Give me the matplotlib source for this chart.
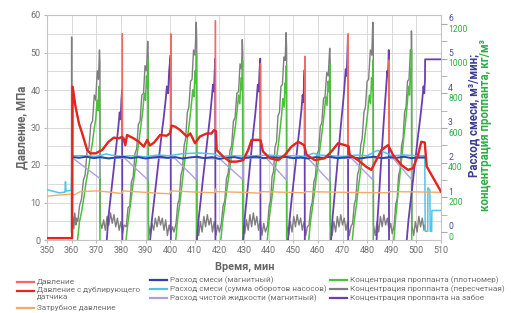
import numpy as np
import matplotlib
matplotlib.use('Agg')
import matplotlib.pyplot as plt
import matplotlib.transforms as mtransforms
from matplotlib.lines import Line2D

# ---------------- data ----------------
# Pressure, duplicate sensor (MPa)
P_TIME = [350, 360.2, 360.4, 361.6, 363, 364.3, 366.3, 367.6, 369.7, 372.4, 375.0, 377.1, 379.1, 380.5,
          381.1, 381.8, 382.5, 385.2, 387.3, 389.3, 390.7, 391.8, 393.5, 395.9, 398.6, 400.0, 400.6,
          402.1, 404.1, 406.8, 408.2, 410.1, 412.1, 414.8, 416.8, 417.8, 418.6, 418.9, 421.6, 424.3,
          427.0, 429.7, 431.7, 433.1, 435.8, 436.8, 437.7, 440.5, 443.9, 446.6, 449.3, 452.0, 454.4,
          455.4, 458.8, 462.8, 465.5, 468.2, 470.9, 472.5, 472.9, 476.3, 479.7, 481.7, 483.7, 485.8,
          488.5, 490.5, 493.9, 496.6, 498.6, 500.7, 502.0, 503.4, 504.2, 510]
P_VAL = [0.5, 0.5, 40.9, 35.5, 31.0, 28.4, 24.0, 23.1, 23.1, 24.0, 26.2, 27.3, 27.1, 27.5,
         27.1, 25.3, 28.0, 27.1, 26.2, 24.9, 26.7, 25.2, 26.0, 28.0, 27.8, 28.5, 30.5,
         30.2, 29.3, 27.6, 28.4, 25.8, 27.6, 28.4, 28.4, 29.3, 29.0, 24.0, 22.2, 20.9,
         20.9, 21.3, 24.0, 26.7, 26.7, 26.5, 23.6, 21.8, 21.3, 22.7, 24.9, 26.2, 25.3,
         22.7, 21.3, 21.8, 23.6, 25.8, 25.3, 25.0, 22.7, 21.3, 19.5, 18.7, 21.3, 24.0,
         25.3, 22.7, 20.0, 18.7, 19.1, 22.7, 26.2, 26.0, 19.6, 12.9]
# Short pressure spikes seen on the main sensor
SPIKE_T = [380.6, 400.3, 418.4, 436.7, 454.7, 472.3, 488.9]
SPIKE_V = [55.0, 55.0, 58.5, 47.0, 49.0, 55.0, 48.0]

# Annulus pressure (MPa)
ANN_TIME = [350, 355, 359.5, 360.4, 361.0, 363.5, 370.5, 375, 380.4, 380.8, 390, 399.8, 400.4, 410,
            418.2, 418.4, 418.8, 430, 436.5, 437.0, 454.6, 455.0, 472.0, 488.5, 489.0, 503.5, 510]
ANN_VAL = [11.7, 12.0, 12.2, 12.3, 12.0, 12.9, 13.1, 12.8, 12.4, 13.1, 12.7, 12.3, 13.1, 12.8,
           12.6, 13.6, 12.9, 12.7, 12.5, 12.9, 12.6, 12.9, 12.7, 12.6, 12.9, 12.8, 12.7]

# Slurry rate, magnetic (m3/min)
BLUE_TIME = [360.3, 363, 366, 369, 372, 375, 378, 381, 384, 387, 390, 393, 396, 399, 402, 405, 408,
             411, 414, 417, 420, 423, 426, 429, 432, 435, 438, 441, 444, 447, 450, 453, 456, 459,
             462, 465, 468, 471, 474, 477, 480, 483, 486, 489, 492, 495, 498, 501, 503.4]
BLUE_VAL = [2.16, 2.14, 2.17, 2.13, 2.16, 2.12, 2.15, 2.17, 2.13, 2.16, 2.12, 2.15, 2.17, 2.14,
            2.16, 2.12, 2.15, 2.17, 2.13, 2.16, 2.11, 2.14, 2.16, 2.12, 2.15, 2.17, 2.13, 2.16,
            2.14, 2.17, 2.13, 2.15, 2.12, 2.16, 2.14, 2.17, 2.13, 2.15, 2.16, 2.12, 2.15, 2.17,
            2.13, 2.16, 2.14, 2.17, 2.13, 2.15, 2.15]

# Slurry rate from pump strokes (m3/min)
CYAN_TIME = [350, 355, 357.3, 357.5, 357.7, 359.8, 360.3, 365, 370, 374, 376, 380, 385, 390, 395,
             400, 405, 412, 418, 420, 425, 430, 435, 440, 445, 450, 455, 458, 461, 465, 470, 476,
             480, 484, 487, 490, 495, 500, 503.4, 503.6, 504.6, 504.7, 505.5, 505.6, 506.2, 506.3, 510]
CYAN_VAL = [1.22, 1.13, 1.15, 1.45, 1.18, 1.2, 2.2, 2.2, 2.18, 2.25, 2.22, 2.18, 2.2, 2.17, 2.22,
            2.2, 2.26, 2.28, 2.25, 2.18, 2.2, 2.19, 2.2, 2.22, 2.19, 2.2, 2.18, 2.27, 2.22, 2.2,
            2.18, 2.22, 2.2, 2.35, 2.3, 2.2, 2.22, 2.2, 2.2, 0.02, 0.02, 1.28, 1.2, 0.02, 0.02,
            0.62, 0.62]

# Clean fluid rate, magnetic (m3/min)
LAV_TIME = [360.3, 361.0, 371.4, 371.6, 381.7, 391.0, 391.2, 402.0, 410.7, 410.9, 420.3, 429.4,
            429.6, 439.2, 447.2, 447.4, 456.0, 464.9, 465.1, 473.7, 482.4, 482.6, 490.6, 498.0,
            498.2, 503.4]
LAV_VAL = [2.12, 2.1, 1.55, 2.14, 2.12, 1.5, 2.14, 2.12, 1.5, 2.14, 2.1, 1.52, 2.14, 2.12, 1.5,
           2.14, 2.12, 1.45, 2.14, 2.12, 1.5, 2.14, 2.12, 1.52, 2.14, 2.14]

# Proppant concentration, calculated (kg/m3)
GRAY_TIME = [359.9, 360.0, 360.1, 360.5, 360.9, 361.3, 361.7, 362.0,
             362.5, 363.2, 364.0, 364.8, 365.5, 366.3, 367.0, 367.8, 368.5, 369.2, 369.8, 370.4, 370.9, 371.3, 371.5,
             371.6, 372.3, 373.0, 373.7, 374.4, 375.1, 375.8, 376.5, 377.2, 377.9, 378.6, 379.3, 380.0, 380.7, 381.3,
             382.2, 382.9, 383.6, 384.3, 385.0, 385.7, 386.4, 387.1, 387.8, 388.5, 389.2, 389.8, 390.4, 390.9, 391.1,
             391.2, 391.9, 392.6, 393.3, 394.0, 394.7, 395.4, 396.1, 396.8, 397.5, 398.2, 398.9, 399.6, 400.3, 401.0, 401.6,
             402.4, 403.1, 403.7, 404.4, 405.0, 405.7, 406.3, 407.0, 407.6, 408.3, 408.9, 409.5, 410.1, 410.6, 410.8,
             410.9, 411.6, 412.3, 413.0, 413.7, 414.4, 415.1, 415.8, 416.5, 417.2, 417.9, 418.6, 419.3, 420.0,
             420.8, 421.5, 422.2, 422.9, 423.6, 424.3, 425.0, 425.7, 426.4, 427.1, 427.8, 428.4, 429.0, 429.3, 429.5,
             429.6, 430.3, 431.0, 431.7, 432.4, 433.1, 433.8, 434.5, 435.2, 435.9, 436.6, 437.3, 438.0, 438.7,
             439.6, 440.2, 440.8, 441.4, 442.0, 442.6, 443.2, 443.8, 444.4, 445.0, 445.6, 446.2, 446.7, 447.1, 447.3,
             447.4, 448.1, 448.8, 449.5, 450.2, 450.9, 451.6, 452.3, 453.0, 453.7, 454.4, 455.1, 455.7,
             456.4, 457.1, 457.7, 458.4, 459.0, 459.7, 460.3, 461.0, 461.6, 462.3, 462.9, 463.6, 464.2, 464.8, 465.0,
             465.1, 465.8, 466.5, 467.2, 467.9, 468.6, 469.3, 470.0, 470.7, 471.4, 472.1, 472.8, 473.4,
             474.1, 474.8, 475.4, 476.1, 476.7, 477.4, 478.0, 478.7, 479.3, 480.0, 480.6, 481.3, 481.9, 482.3, 482.5,
             482.6, 483.3, 484.0, 484.7, 485.4, 486.1, 486.8, 487.5, 488.2, 488.9, 489.6, 490.2,
             491.0, 491.6, 492.2, 492.8, 493.4, 494.0, 494.6, 495.2, 495.8, 496.4, 497.0, 497.6, 497.9, 498.0, 498.1,
             498.2, 498.9, 499.6, 500.3, 501.0, 501.7, 502.4, 503.1, 503.5]
GRAY_VAL = [0, 1125, 40, 90, 20, 110, 40, 80,
            60, 150, 190, 300, 330, 470, 480, 620, 640, 790, 760, 930, 880, 1050, 980,
            60, 20, 70, 10, 90, 40, 110, 50, 100, 30, 80, 10, 60, -10, 40,
            30, 140, 150, 290, 320, 450, 480, 620, 640, 790, 800, 960, 930, 1100, 1020,
            50, -20, 50, 10, 80, 30, 90, 40, 80, 10, 70, -20, 40, -10, 30, 0,
            50, 160, 190, 330, 360, 500, 540, 690, 720, 870, 880, 1050, 1020, 1210, 1100,
            40, -20, 60, 0, 90, 30, 100, 40, 80, 0, 60, -20, 40, 0,
            50, 150, 180, 310, 340, 470, 500, 640, 660, 800, 810, 970, 940, 1110, 1030,
            40, -10, 70, 10, 100, 30, 110, 40, 90, 10, 70, -20, 50, 0,
            40, 150, 180, 320, 350, 490, 520, 670, 690, 840, 850, 1010, 990, 1150, 1060,
            40, -20, 60, 0, 90, 30, 100, 40, 80, 10, 60, -20, 30,
            40, 140, 170, 290, 320, 450, 470, 610, 630, 770, 780, 920, 900, 1060, 990,
            40, -20, 60, 0, 90, 30, 100, 40, 80, 10, 60, -20, 30,
            50, 160, 190, 330, 360, 500, 540, 690, 720, 870, 880, 1050, 1020, 1210, 1100,
            40, -20, 60, 0, 90, 30, 100, 40, 80, 10, 50, -10,
            40, 160, 190, 330, 360, 500, 540, 690, 720, 870, 880, 1050, 1000, 1160, 1080,
            40, -20, 60, 0, 90, 30, 80, 10, 40]

# Proppant concentration, densitometer (kg/m3)
GREEN_TIME = [360.0,
              362.3, 363.2, 364.1, 365.0, 365.9, 366.8, 367.7, 368.5, 369.2, 369.8, 370.3, 370.7, 371.1, 371.4, 371.5,
              382.0, 382.9, 383.8, 384.7, 385.6, 386.5, 387.4, 388.2, 388.9, 389.5, 390.0, 390.4, 390.8, 391.0, 391.1,
              402.2, 403.0, 403.9, 404.7, 405.5, 406.3, 407.1, 407.9, 408.6, 409.2, 409.7, 410.1, 410.5, 410.7, 410.8,
              420.5, 421.3, 422.2, 423.0, 423.9, 424.8, 425.6, 426.5, 427.2, 427.8, 428.3, 428.8, 429.2, 429.4, 429.5,
              439.4, 440.1, 440.9, 441.7, 442.4, 443.2, 444.0, 444.7, 445.3, 445.8, 446.3, 446.7, 447.0, 447.2, 447.3,
              456.2, 457.0, 457.9, 458.7, 459.5, 460.3, 461.1, 461.9, 462.6, 463.2, 463.7, 464.2, 464.6, 464.9, 465.0,
              473.9, 474.7, 475.6, 476.4, 477.2, 478.0, 478.8, 479.6, 480.3, 480.9, 481.4, 481.8, 482.2, 482.4, 482.5,
              490.8, 491.5, 492.2, 492.9, 493.6, 494.3, 495.0, 495.7, 496.3, 496.8, 497.2, 497.6, 497.9, 498.0, 498.1,
              510]
GREEN_VAL = [-60,
             -60, 60, 120, 200, 290, 360, 450, 520, 600, 650, 760, 700, 840, 760, -60,
             -60, 60, 150, 250, 340, 440, 530, 620, 700, 800, 760, 900, 830, 1000, -60,
             -60, 70, 160, 260, 360, 450, 550, 640, 730, 820, 780, 930, 860, 1030, -60,
             -60, 60, 150, 240, 330, 430, 520, 610, 700, 790, 740, 890, 820, 990, -60,
             -60, 60, 150, 240, 330, 420, 510, 600, 680, 770, 720, 860, 800, 960, -60,
             -60, 60, 150, 240, 330, 420, 510, 600, 690, 780, 730, 870, 810, 970, -60,
             -60, 60, 150, 250, 340, 430, 520, 610, 700, 790, 740, 890, 820, 990, -60,
             -60, 70, 170, 270, 370, 460, 560, 650, 740, 840, 790, 940, 870, 1050, -60,
             -60]

# Proppant concentration at bottomhole (kg/m3)
PURPLE_TIME = [360.0,
               374.2, 374.9, 375.6, 376.3, 377.0, 377.7, 378.4, 379.0, 379.5, 379.9, 380.2, 380.5, 380.6,
               391.8, 392.6, 393.4, 394.2, 395.0, 395.8, 396.6, 397.4, 398.1, 398.7, 399.2, 399.6, 400.2, 400.3,
               410.8, 411.6, 412.4, 413.2, 414.0, 414.8, 415.6, 416.3, 416.9, 417.4, 417.8, 418.1, 418.3, 418.4,
               429.6, 430.3, 431.0, 431.7, 432.4, 433.1, 433.8, 434.5, 435.1, 435.6, 436.0, 436.3, 436.6, 436.7,
               447.8, 448.5, 449.2, 449.9, 450.6, 451.3, 452.0, 452.7, 453.3, 453.8, 454.1, 454.4, 454.6, 454.7,
               465.3, 466.0, 466.7, 467.4, 468.1, 468.8, 469.5, 470.2, 470.8, 471.3, 471.7, 472.0, 472.2, 472.3,
               483.8, 484.3, 484.8, 485.3, 485.8, 486.3, 486.8, 487.3, 487.8, 488.2, 488.5, 488.7, 488.8, 488.9,
               496.0, 496.8, 497.6, 498.4, 499.2, 500.0, 500.8, 501.6, 502.3, 502.9, 503.2, 503.5, 503.55,
               510]
PURPLE_VAL = [-60,
              -60, 80, 170, 260, 350, 440, 530, 610, 690, 650, 760, 820, -60,
              -60, 70, 170, 270, 370, 470, 570, 660, 750, 840, 800, 930, 1020, -60,
              -60, 80, 180, 290, 390, 490, 590, 680, 770, 850, 810, 930, 1000, -60,
              -60, 80, 180, 280, 380, 480, 580, 670, 760, 850, 810, 930, 1000, -60,
              -60, 70, 170, 260, 350, 440, 530, 620, 700, 790, 750, 870, 935, -60,
              -60, 90, 200, 310, 420, 530, 640, 740, 840, 940, 900, 1040, 1130, -60,
              -60, 90, 200, 320, 430, 540, 650, 750, 850, 930, 900, 980, 1050, -60,
              -60, 70, 170, 270, 370, 470, 570, 660, 750, 840, 800, 880, 996,
              996]

X_TICKS = list(range(350, 511, 10))
P_TICKS = list(range(0, 61, 10))
RATE_TICKS = [0, 1, 2, 3, 4, 5, 6]
CONC_TICK_LABELS = ['0', '200', '400', '600', '800', '1000', '1200']

LEG_COL1 = ['Давление', 'Давление с дублирующего\nдатчика', 'Затрубное давление']
LEG_COL2 = ['Расход смеси (магнитный)', 'Расход смеси (сумма оборотов насосов)',
            'Расход чистой жидкости (магнитный)']
LEG_COL3 = ['Концентрация проппанта (плотномер)', 'Концентрация проппанта (пересчетная)',
            'Концентрация проппанта на забое']

# ---------------- style ----------------
C_P1 = '#f26a60'
C_P2 = '#e4261e'
C_ANN = '#f6aa6a'
C_BLUE = '#2c46a6'
C_CYAN = '#52c4e8'
C_LAV = '#aaa2dc'
C_GREEN = '#4cbf3c'
C_GRAY = '#7f7f7f'
C_PURP = '#6b3fb2'
C_TXT = '#707070'
C_RATE = '#3c3d92'
C_CONC = '#2fae48'

plt.rcParams['font.family'] = ['Roboto', 'DejaVu Sans']

W, H = 511, 313
fig = plt.figure(figsize=(W / 100, H / 100), dpi=100)
L, R, B, T = 47 / W, 441 / W, 1 - 240 / H, 1 - 15 / H
ax = fig.add_axes([L, B, R - L, T - B])
ax.set_xlim(350, 510)
ax.set_ylim(0, 60)
ax.set_xticks(X_TICKS)
ax.set_yticks(P_TICKS)
ax.set_yticks(np.arange(5, 60, 10), minor=True)
ax.grid(True, which='both', color='#dadada', lw=0.7)
ax.set_axisbelow(True)
ax.tick_params(axis='both', which='major', labelsize=6.5, labelcolor=C_TXT, color='#bbbbbb', length=2, pad=2.5)
ax.tick_params(axis='y', which='minor', length=0)
for s in ax.spines.values():
    s.set_color('#c4c4c4')
    s.set_linewidth(0.8)

r_lo, r_hi = (232 - 240) / 34.67, (232 - 15) / 34.67

axc = ax.twinx()
axc.set_ylim(r_lo * 200, r_hi * 200)
axc.axis('off')

axf = ax.twinx()
axf.set_ylim(r_lo, r_hi)
axf.set_yticks(RATE_TICKS)
axf.set_yticks(np.arange(0.5, 6, 1), minor=True)
axf.tick_params(axis='y', which='both', length=4, color='#aaaaaa', labelright=False)
for s in axf.spines.values():
    s.set_visible(False)

axp = ax.twinx()
axp.set_ylim(0, 60)
axp.axis('off')

for a, z in ((axc, 2), (axf, 3), (axp, 4)):
    a.set_zorder(z)
    a.patch.set_visible(False)
    a.set_xlim(350, 510)

# concentrations
axc.plot(GRAY_TIME, GRAY_VAL, color=C_GRAY, lw=1.0)
axc.plot(GREEN_TIME, GREEN_VAL, color=C_GREEN, lw=1.1)
axc.plot(PURPLE_TIME, PURPLE_VAL, color=C_PURP, lw=1.3)

# rates
axf.plot(LAV_TIME, LAV_VAL, color=C_LAV, lw=1.0)
axf.plot(CYAN_TIME, CYAN_VAL, color=C_CYAN, lw=1.1)
axf.plot(BLUE_TIME, BLUE_VAL, color=C_BLUE, lw=1.4)

# pressures
axp.plot(ANN_TIME, ANN_VAL, color=C_ANN, lw=1.0)
sp_t = np.array(SPIKE_T)
base = np.interp(sp_t, P_TIME, P_VAL)
t_all = np.concatenate([P_TIME, sp_t - 0.05, sp_t, sp_t + 0.05])
v_all = np.concatenate([P_VAL, base, SPIKE_V, base])
order = np.argsort(t_all, kind='stable')
axp.plot(t_all[order], v_all[order], color=C_P1, lw=1.0)
axp.plot(P_TIME, P_VAL, color=C_P2, lw=1.7)

# right tick labels (two colours)
tr = mtransforms.blended_transform_factory(axf.transAxes, axf.transData)
for v, lab in zip(RATE_TICKS, CONC_TICK_LABELS):
    axf.text(1.018, v + 0.15, str(v), transform=tr, color='#4a4c9e', fontsize=6.2, ha='left', va='center')
    axf.text(1.018, v - 0.15, lab, transform=tr, color=C_CONC, fontsize=6.2, ha='left', va='center')

fig.text(22 / W, 1 - 127 / H, 'Давление, МПа', rotation=90, ha='center', va='center',
         color='#666666', fontsize=8.3, fontweight='bold')
fig.text(245 / W, 1 - 267 / H, 'Время, мин', ha='center', va='center',
         color='#666666', fontsize=7.8, fontweight='bold')
fig.text(474 / W, 1 - 115 / H, 'Расход смеси, м³/мин;', rotation=90, ha='center', va='center',
         color=C_RATE, fontsize=8.3, fontweight='bold')
fig.text(486 / W, 1 - 125 / H, 'концентрация проппанта, кг/м³', rotation=90, ha='center', va='center',
         color=C_CONC, fontsize=8.3, fontweight='bold')

# legend (manual)
def leg(x0, rows, labels, colors):
    for py, lab, c in zip(rows, labels, colors):
        fig.add_artist(Line2D([x0 / W, (x0 + 17) / W], [1 - py / H] * 2, color=c, lw=1.6))
        if '\n' in lab:
            fig.text((x0 + 20) / W, 1 - (py - 4.5) / H, lab, ha='left', va='top',
                     fontsize=5.9, color=C_TXT, linespacing=1.1)
        else:
            fig.text((x0 + 20) / W, 1 - py / H, lab, ha='left', va='center',
                     fontsize=5.9, color=C_TXT)

leg(17, [282, 291, 308], LEG_COL1, [C_P1, C_P2, C_ANN])
leg(150, [280, 289, 298], LEG_COL2, [C_BLUE, C_CYAN, C_LAV])
leg(330, [280, 289, 298], LEG_COL3, [C_GREEN, C_GRAY, C_PURP])

fig.savefig('out.png', dpi=100)
